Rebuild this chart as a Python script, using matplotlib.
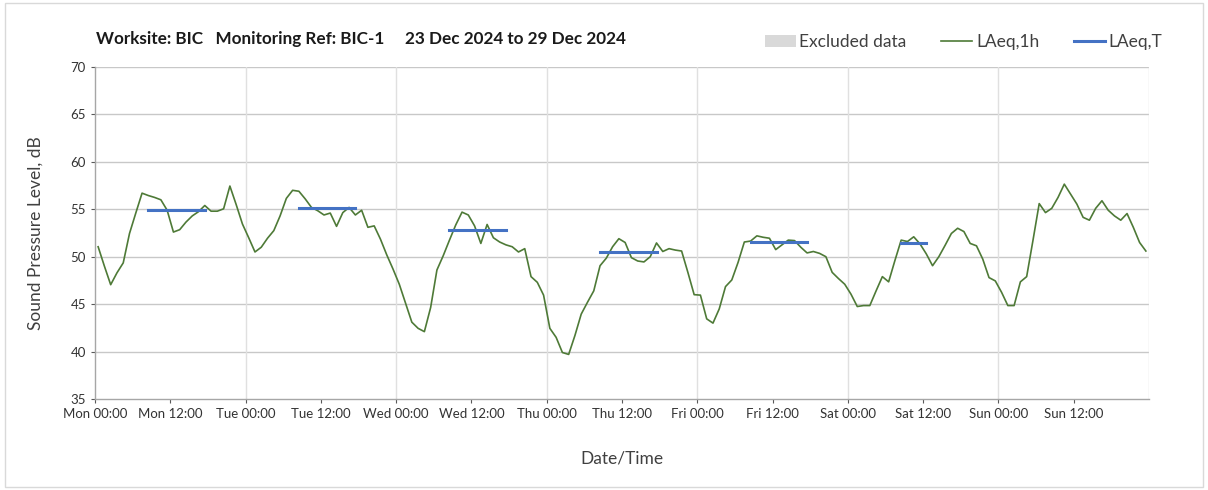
import numpy as np
import matplotlib
matplotlib.use('Agg')
import matplotlib.pyplot as plt
from matplotlib.patches import Patch, Rectangle
from matplotlib.lines import Line2D

plt.rcParams['font.family'] = ['Lato', 'DejaVu Sans']

# hourly LAeq,1h values, Mon 00:00 to Sun 23:00
laeq_1h = [
    51.05, 49.0, 47.05, 48.3, 49.35, 52.45, 54.6, 56.7, 56.45, 56.25, 56.0, 54.9,
    52.6, 52.85, 53.65, 54.3, 54.75, 55.4, 54.8, 54.8, 55.05, 57.45, 55.5, 53.45,
    52.0, 50.5, 51.0, 51.95, 52.75, 54.3, 56.15, 57.0, 56.9, 56.1, 55.2, 54.85,
    54.4, 54.6, 53.2, 54.65, 55.2, 54.4, 54.9, 53.1, 53.25, 51.85, 50.2, 48.7,
    47.1, 45.1, 43.1, 42.45, 42.1, 44.65, 48.6, 50.1, 51.75, 53.35, 54.7, 54.4,
    53.25, 51.4, 53.4, 52.0, 51.55, 51.25, 51.05, 50.5, 50.85, 47.9, 47.3, 45.95,
    42.45, 41.5, 39.9, 39.7, 41.7, 43.95, 45.2, 46.4, 49.05, 49.85, 51.05, 51.9,
    51.5, 49.9, 49.55, 49.45, 50.0, 51.45, 50.55, 50.85, 50.7, 50.6, 48.35, 46.0,
    45.95, 43.45, 43.0, 44.5, 46.85, 47.55, 49.4, 51.55, 51.65, 52.2, 52.05, 51.95,
    50.75, 51.25, 51.75, 51.7, 51.0, 50.4, 50.55, 50.35, 50.0, 48.35, 47.7, 47.1,
    46.05, 44.75, 44.85, 44.85, 46.4, 47.9, 47.35, 49.6, 51.75, 51.6, 52.1, 51.35,
    50.3, 49.05, 50.0, 51.2, 52.45, 53.0, 52.65, 51.4, 51.15, 49.75, 47.8, 47.45,
    46.25, 44.85, 44.85, 47.35, 47.9, 51.7, 55.6, 54.65, 55.1, 56.25, 57.65, 56.6,
    55.55, 54.15, 53.85, 55.1, 55.9, 54.9, 54.3, 53.85, 54.55, 53.1, 51.5, 50.6,
]

# LAeq,T daytime periods (first hour, last hour, level)
period_start = [8, 32, 56, 80, 104, 128]
period_end = [17, 41, 65, 89, 113, 132]
laeq_t = [54.95, 55.1, 52.85, 50.5, 51.5, 51.45]

days = ['Mon', 'Tue', 'Wed', 'Thu', 'Fri', 'Sat', 'Sun']
tick_labels = []
for d in days:
    tick_labels.append(d + ' 00:00')
    tick_labels.append(d + ' 12:00')

green = '#4e7a37'
blue = '#4472c4'

fig = plt.figure(figsize=(12.08, 4.9), dpi=100)
ax = fig.add_axes([95/1208, 1-399/490, (1149-95)/1208, (399-67)/490])

hours = np.arange(len(laeq_1h)) + 0.5
ax.plot(hours, laeq_1h, color=green, lw=1.2, zorder=3)

for s, e, v in zip(period_start, period_end, laeq_t):
    ax.plot([s + 0.5, e + 0.5], [v, v], color=blue, lw=2.2, zorder=4)

ax.set_xlim(0, 168)
ax.set_ylim(35, 70)
ax.set_yticks(np.arange(35, 71, 5))
ax.set_xticks(np.arange(0, 168, 12))
ax.set_xticklabels(tick_labels)
ax.tick_params(axis='both', labelsize=9.5, colors='#595959', length=3, width=0.8,
               labelcolor='#333333')

for y in np.arange(40, 71, 5):
    ax.axhline(y, color='#c8c8c8', lw=1.0, zorder=1)
for x in np.arange(24, 169, 24):
    ax.axvline(x, color='#e0e0e0', lw=1.0, zorder=1)

for side in ['top', 'right']:
    ax.spines[side].set_visible(False)
for side in ['left', 'bottom']:
    ax.spines[side].set_color('#a6a6a6')
    ax.spines[side].set_linewidth(1.0)

ax.set_ylabel('Sound Pressure Level, dB', fontsize=12.5, color='#404040', labelpad=19)
ax.set_xlabel('Date/Time', fontsize=12.5, color='#404040', labelpad=22)

fig.text(96/1208, 1-39/490, 'Worksite: BIC   Monitoring Ref: BIC-1     23 Dec 2024 to 29 Dec 2024',
         fontsize=12.3, fontweight='bold', color='#1a1a1a', va='center', ha='left')

handles = [Patch(facecolor='#d9d9d9', edgecolor='none'),
           Line2D([0], [0], color=green, lw=1.2),
           Line2D([0], [0], color=blue, lw=2.2)]
fig.legend(handles, ['Excluded data', 'LAeq,1h', 'LAeq,T'], loc='center right',
           bbox_to_anchor=(1178/1208, 1-42/490), ncol=3, frameon=False, fontsize=12.5,
           handlelength=1.8, handletextpad=0.2, columnspacing=2.0,
           labelcolor='#404040')

fig.patches.append(Rectangle((5/1208, 3/490), 1198/1208, 484/490, transform=fig.transFigure,
                             fill=False, edgecolor='#d9d9d9', lw=1.0))

fig.savefig('out.png', dpi=100)
